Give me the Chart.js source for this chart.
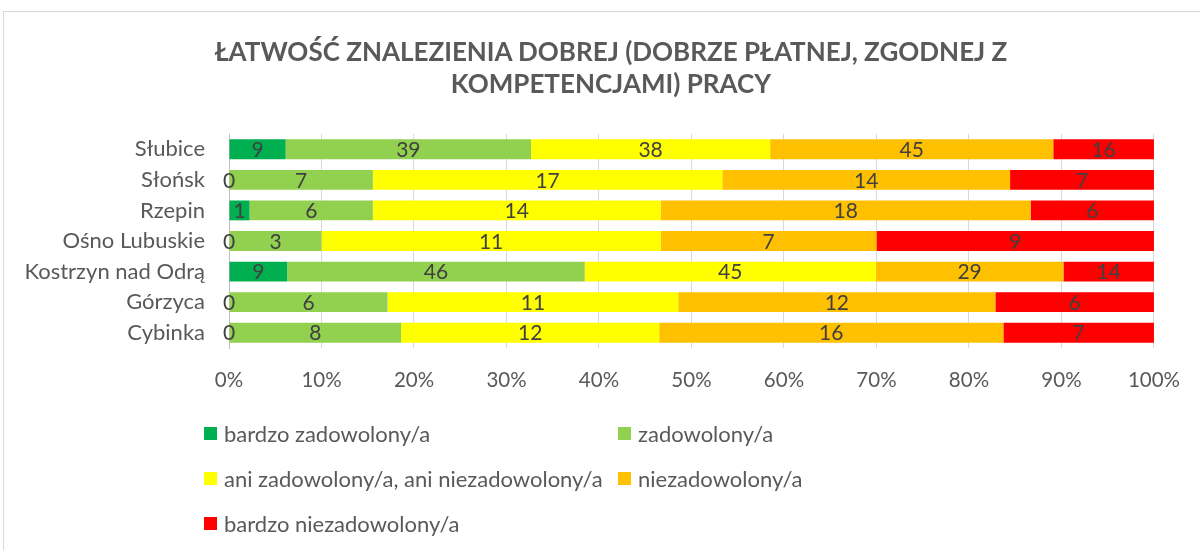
<!DOCTYPE html>
<html>
<head>
<meta charset="utf-8">
<script src="https://cdn.jsdelivr.net/npm/chart.js@4"></script>
<style>
  body { margin: 0; background: #fff; font-family: Lato, sans-serif; }
  #wrap { position: relative; width: 1200px; height: 550px; overflow: hidden; }
  #frame { position: absolute; left: 3px; top: 11px; width: 1210px; height: 560px; border: 1px solid #d9d9d9; }
  #c { position: absolute; left: 0; top: 0; }
  #title { position: absolute; left: 0; top: 35px; width: 1222px; text-align: center; font-weight: bold; font-size: 26px; line-height: 32px; color: #595959; }
  .item { position: absolute; font-size: 22px; line-height: 26px; color: #595959; white-space: nowrap; }
  .item span { position: absolute; left: -20px; top: 6px; width: 13px; height: 13px; }
</style>
</head>
<body>
<div id="wrap">
  <div id="frame"></div>
  <canvas id="c" width="1200" height="550"></canvas>
  <div id="title">ŁATWOŚĆ ZNALEZIENIA DOBREJ (DOBRZE PŁATNEJ, ZGODNEJ Z<br>KOMPETENCJAMI) PRACY</div>
  <div id="legend"></div>
</div>
<script>
// dane z wykresu
const gminy = ['Słubice', 'Słońsk', 'Rzepin', 'Ośno Lubuskie', 'Kostrzyn nad Odrą', 'Górzyca', 'Cybinka'];
const nazwy = ['bardzo zadowolony/a', 'zadowolony/a', 'ani zadowolony/a, ani niezadowolony/a', 'niezadowolony/a', 'bardzo niezadowolony/a'];
const kolory = ['#00B050', '#92D050', '#FFFF00', '#FFC000', '#FF0000'];

const bardzoZadowolony = [9, 0, 1, 0, 9, 0, 0];
const zadowolony = [39, 7, 6, 3, 46, 6, 8];
const ani = [38, 17, 14, 11, 45, 11, 12];
const niezadowolony = [45, 14, 18, 7, 29, 12, 16];
const bardzoNiezadowolony = [16, 7, 6, 9, 14, 6, 7];

const serie = [bardzoZadowolony, zadowolony, ani, niezadowolony, bardzoNiezadowolony];
const sumy = gminy.map((g, i) => serie.reduce((a, s) => a + s[i], 0));

const datasets = serie.map((s, k) => ({
  label: nazwy[k],
  raw: s,
  data: s.map((v, i) => v / sumy[i]),
  backgroundColor: kolory[k],
  barPercentage: 0.65,
  categoryPercentage: 1
}));

// etykiety z wartościami w środku segmentów
const etykiety = {
  id: 'etykiety',
  afterDatasetsDraw(chart) {
    const ctx = chart.ctx;
    ctx.save();
    ctx.font = '21px Lato';
    ctx.fillStyle = '#404040';
    ctx.textAlign = 'center';
    ctx.textBaseline = 'middle';
    chart.data.datasets.forEach((ds, k) => {
      chart.getDatasetMeta(k).data.forEach((bar, i) => {
        ctx.fillText(ds.raw[i], (bar.x + bar.base) / 2, bar.y + 1);
      });
    });
    ctx.restore();
  }
};

new Chart(document.getElementById('c'), {
  type: 'bar',
  data: { labels: gminy, datasets: datasets },
  options: {
    indexAxis: 'y',
    responsive: false,
    animation: false,
    layout: { padding: { left: 0, right: 43, top: 134, bottom: 157 } },
    scales: {
      x: {
        stacked: true, min: 0, max: 1,
        grid: { color: '#d9d9d9', drawTicks: false },
        border: { display: false },
        ticks: {
          stepSize: 0.1, padding: 20, color: '#595959', font: { family: 'Lato', size: 20.5 },
          callback: v => Math.round(v * 100) + '%'
        },
        afterFit: s => { s.height = 45; }
      },
      y: {
        stacked: true,
        grid: { display: false },
        border: { color: '#bfbfbf' },
        ticks: { color: '#595959', font: { family: 'Lato', size: 22 }, padding: 16 },
        afterFit: s => { s.width = 229; }
      }
    },
    plugins: {
      legend: { display: false },
      tooltip: { enabled: false },
      title: { display: false }
    }
  },
  plugins: [etykiety]
});

// legenda w dwóch kolumnach
const leg = document.getElementById('legend');
const poz = [[224, 421], [638, 421], [224, 466], [638, 466], [224, 511]];
nazwy.forEach((n, k) => {
  const d = document.createElement('div');
  d.className = 'item';
  d.style.left = poz[k][0] + 'px';
  d.style.top = poz[k][1] + 'px';
  d.innerHTML = '<span style="background:' + kolory[k] + '"></span>' + n;
  leg.appendChild(d);
});
</script>
</body>
</html>
